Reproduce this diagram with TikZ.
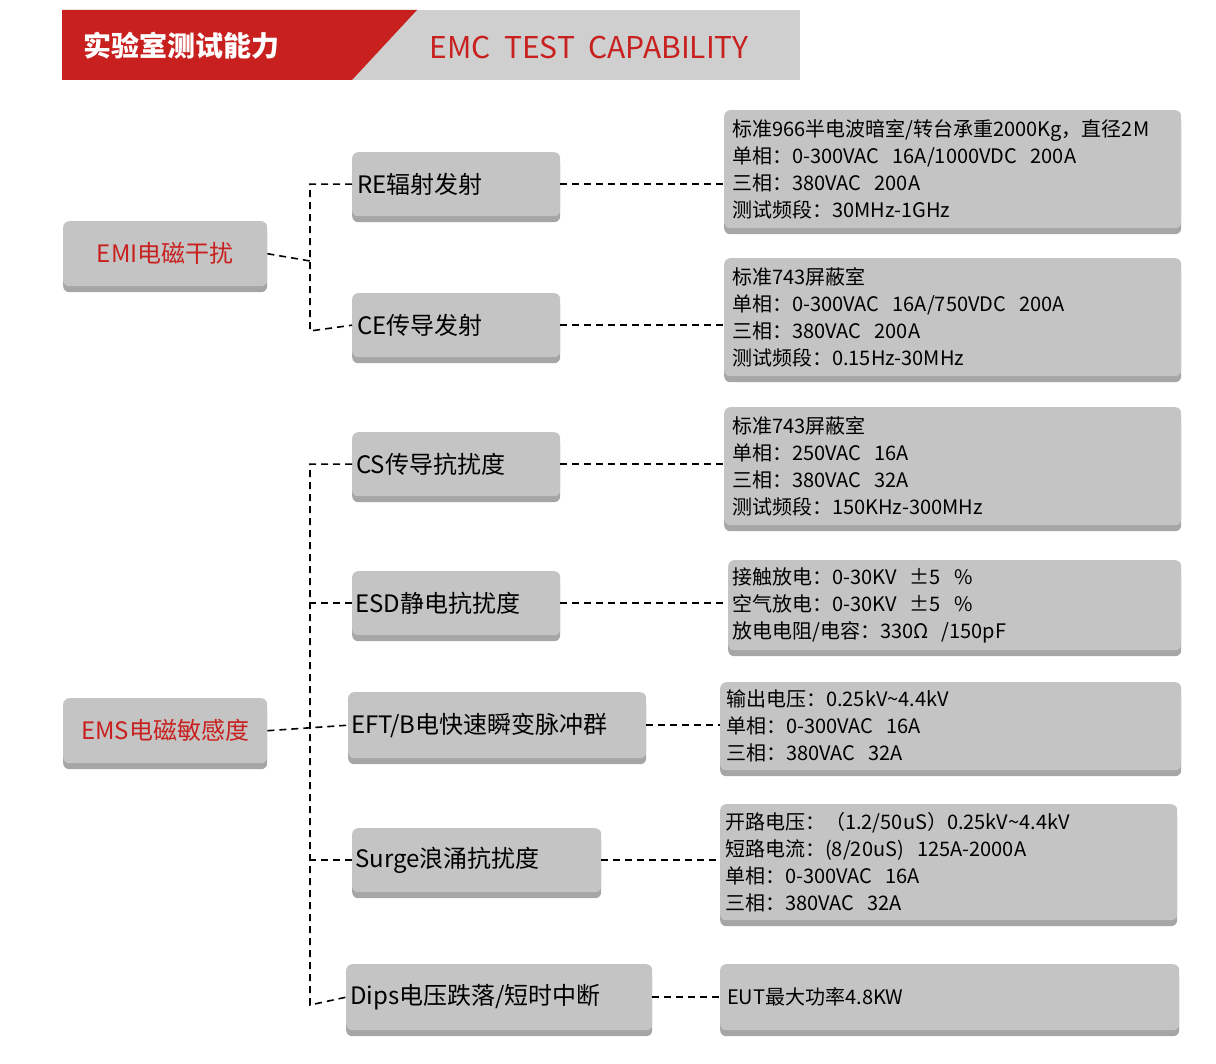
\documentclass[tikz,border=0pt]{standalone}
\usepackage{fontspec}
\setmainfont{Noto Sans CJK SC}
\usetikzlibrary{shadows}
\definecolor{boxg}{HTML}{C4C4C4}
\definecolor{shg}{HTML}{A6A6A6}
\definecolor{redc}{HTML}{C8201E}
\definecolor{hdrg}{HTML}{CFCFCF}
\begin{document}
\begin{tikzpicture}[x=1pt,y=-1pt,
  bx/.style={fill=boxg,rounded corners=6pt,align=left,inner sep=0pt,anchor=north west,
    drop shadow={shadow xshift=0pt,shadow yshift=-6pt,fill=shg,opacity=1}},
  lab/.style={bx,font=\fontsize{24}{28}\selectfont},
  det/.style={bx,font=\fontsize{20}{27}\selectfont},
  ln/.style={densely dashed,line width=1.6pt,dash pattern=on 7pt off 5pt}]
\useasboundingbox (0,0) rectangle (1216,1064);
% header
\fill[hdrg] (62,10) rectangle (800,80);
\fill[redc] (62,10) -- (417,10) -- (352,80) -- (62,80) -- cycle;
\node[anchor=west,white,font=\fontsize{28}{30}\selectfont\bfseries] (h1) at (80,46) {实验室测试能力};
\node[anchor=west,redc,font=\fontsize{30}{32}\selectfont] (h2) at (426,48) {EMC\ \ TEST\ \ CAPABILITY};
% left nodes (width,height of light part)
\node[lab,minimum width=204pt,minimum height=65pt,align=center,text=redc] (emi) at (63,221) {EMI电磁干扰};
\node[lab,minimum width=204pt,minimum height=65pt,align=center,text=redc] (ems) at (63,698) {EMS电磁敏感度};
\node[lab,minimum width=208pt,minimum height=64pt,text width=198pt] (re) at (352,152) {RE辐射发射};
\node[lab,minimum width=208pt,minimum height=64pt,text width=198pt] (ce) at (352,293) {CE传导发射};
\node[lab,minimum width=208pt,minimum height=64pt,text width=200pt] (cs) at (352,432) {CS传导抗扰度};
\node[lab,minimum width=208pt,minimum height=64pt,text width=202pt] (esd) at (352,571) {ESD静电抗扰度};
\node[lab,minimum width=298pt,minimum height=66pt,text width=292pt] (eft) at (348,692) {EFT/B电快速瞬变脉冲群};
\node[lab,minimum width=249pt,minimum height=64pt,text width=243pt] (surge) at (352,828) {Surge浪涌抗扰度};
\node[lab,minimum width=306pt,minimum height=66pt,text width=298pt] (dips) at (346,964) {Dips电压跌落/短时中断};
% detail boxes
\node[det,minimum width=457pt,minimum height=118pt,text width=441pt] (d1) at (724,110) {标准966半电波暗室/转台承重2000Kg，直径2M\\单相：0-300VAC\ \ 16A/1000VDC\ \ 200A\\三相：380VAC\ \ 200A\\测试频段：30MHz-1GHz};
\node[det,minimum width=457pt,minimum height=118pt,text width=441pt] (d2) at (724,258) {标准743屏蔽室\\单相：0-300VAC\ \ 16A/750VDC\ \ 200A\\三相：380VAC\ \ 200A\\测试频段：0.15Hz-30MHz};
\node[det,minimum width=457pt,minimum height=118pt,text width=441pt] (d3) at (724,407) {标准743屏蔽室\\单相：250VAC\ \ 16A\\三相：380VAC\ \ 32A\\测试频段：150KHz-300MHz};
\node[det,minimum width=453pt,minimum height=90pt,text width=445pt] (d4) at (728,560) {接触放电：0-30KV\ \ ±5\ \ \%\\空气放电：0-30KV\ \ ±5\ \ \%\\放电电阻/电容：330Ω\ \ /150pF};
\node[det,minimum width=461pt,minimum height=88pt,text width=449pt] (d5) at (720,682) {输出电压：0.25kV\textasciitilde4.4kV\\单相：0-300VAC\ \ 16A\\三相：380VAC\ \ 32A};
\node[det,minimum width=457pt,minimum height=116pt,text width=447pt] (d6) at (720,804) {开路电压：（1.2/50uS）0.25kV\textasciitilde4.4kV\\短路电流：(8/20uS)\ \ 125A-2000A\\单相：0-300VAC\ \ 16A\\三相：380VAC\ \ 32A};
\node[det,minimum width=459pt,minimum height=66pt,text width=445pt] (d7) at (720,964) {EUT最大功率4.8KW};
% connectors
\coordinate (t1) at (310,261);
\coordinate (t2) at (310,732);
\draw[ln] (emi.east) -- (t1);
\draw[ln] (re.west) -| (310,331) -- (ce.west);
\draw[ln] (ems.east) -- (eft.west);
\draw[ln] (cs.west) -| (310,1005) -- (dips.west);
\draw[ln] (esd.west) -- (esd.west -| t2);
\draw[ln] (surge.west) -- (surge.west -| t2);
\draw[ln] (re.east) -- (re.east -| d1.west);
\draw[ln] (ce.east) -- (ce.east -| d2.west);
\draw[ln] (cs.east) -- (cs.east -| d3.west);
\draw[ln] (esd.east) -- (esd.east -| d4.west);
\draw[ln] (eft.east) -- (eft.east -| d5.west);
\draw[ln] (surge.east) -- (surge.east -| d6.west);
\draw[ln] (dips.east) -- (dips.east -| d7.west);
\end{tikzpicture}
\end{document}
